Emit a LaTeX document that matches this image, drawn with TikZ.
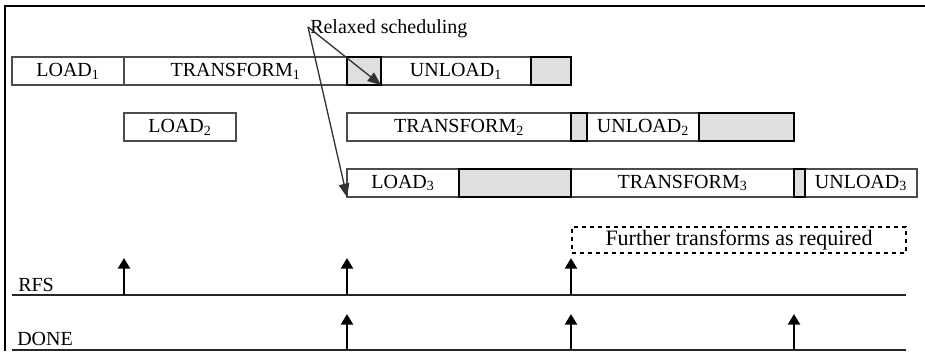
\documentclass[tikz,border=0pt]{standalone}
\usepackage{fontspec}
\setmainfont{Liberation Serif}
\usetikzlibrary{arrows.meta}
\tikzset{
  seg/.style={draw=black!70, line width=0.9pt, fill=white, inner sep=0pt, outer sep=0pt,
    minimum height=21pt, font=\fontsize{15}{17}\selectfont},
  hatch/.style={draw=black, line width=1.3pt, fill=gray!25, inner sep=0pt, outer sep=0pt,
    minimum height=21pt},
  thin arrow/.style={draw=black!80, line width=1pt, -{Triangle[length=10pt,width=8pt]}},
  sig arrow/.style={draw=black, line width=1.8pt, -{Triangle[length=8pt,width=9pt]}},
  sigline/.style={draw=black!85, line width=1pt},
  lbl/.style={font=\fontsize{15}{17}\selectfont, inner sep=0pt}
}
\newcommand\segbox[6]{\node[#6, minimum width={(#3-#2)*0.75pt}] (#1) at ({(#2+#3)/2},#4) {#5};}
\begin{document}
\begin{tikzpicture}[x=0.75pt,y=-0.75pt]
\useasboundingbox (0,0) rectangle (925,351);
% frame
\draw[line width=1.6pt] (5,351) -- (5,6) -- (925,6);
% row 1
\segbox{L1}{12}{124}{71}{LOAD\textsubscript{1}}{seg}
\segbox{T1}{124}{347}{71}{TRANSFORM\textsubscript{1}}{seg}
\segbox{U1}{381}{531}{71}{UNLOAD\textsubscript{1}}{seg}
\segbox{Ha}{347}{381}{71}{}{hatch}
\segbox{Hb}{531}{571}{71}{}{hatch}
% row 2
\segbox{L2}{124}{236}{127}{LOAD\textsubscript{2}}{seg}
\segbox{T2}{347}{571}{127}{TRANSFORM\textsubscript{2}}{seg}
\segbox{U2}{587}{699}{127}{UNLOAD\textsubscript{2}}{seg}
\segbox{Hc}{571}{587}{127}{}{hatch}
\segbox{Hd}{699}{794}{127}{}{hatch}
% row 3
\segbox{L3}{347}{459}{183}{LOAD\textsubscript{3}}{seg}
\segbox{T3}{571}{794}{183}{TRANSFORM\textsubscript{3}}{seg}
\segbox{U3}{805}{917}{183}{UNLOAD\textsubscript{3}}{seg}
\segbox{He}{459}{571}{183}{}{hatch}
\segbox{Hf}{794}{805}{183}{}{hatch}
% further transforms
\node[draw=black, dashed, line width=1pt, inner sep=0pt, minimum width={334*0.75pt}, minimum height={26*0.75pt},
  font=\fontsize{16.5}{18}\selectfont] (FT) at (739,240) {Further transforms as required};
% relaxed scheduling
\node[lbl, anchor=base west] (RS) at (310,33) {Relaxed scheduling};
\coordinate (rs) at (308,27);
\draw[thin arrow] (rs) -- (Ha.south east);
\draw[thin arrow] (rs) -- (L3.south west);
% signal lines
\coordinate (rfsA) at (12,295);
\coordinate (rfsB) at (906,295);
\coordinate (dnA) at (12,350);
\coordinate (dnB) at (906,350);
\draw[sigline] (rfsA) -- (rfsB);
\draw[sigline] (dnA) -- (dnB);
\node[lbl, anchor=base west] (RFS) at (18,291) {RFS};
\node[lbl, anchor=base west] (DONE) at (17,345) {DONE};
\foreach \x/\n in {124/a,347/b,571/c}{
  \coordinate (r\n0) at (\x,295);
  \coordinate (r\n1) at (\x,258);
  \draw[sig arrow] (r\n0) -- (r\n1);
}
\foreach \x/\n in {347/a,571/b,794/c}{
  \coordinate (d\n0) at (\x,350);
  \coordinate (d\n1) at (\x,314);
  \draw[sig arrow] (d\n0) -- (d\n1);
}
\end{tikzpicture}
\end{document}
